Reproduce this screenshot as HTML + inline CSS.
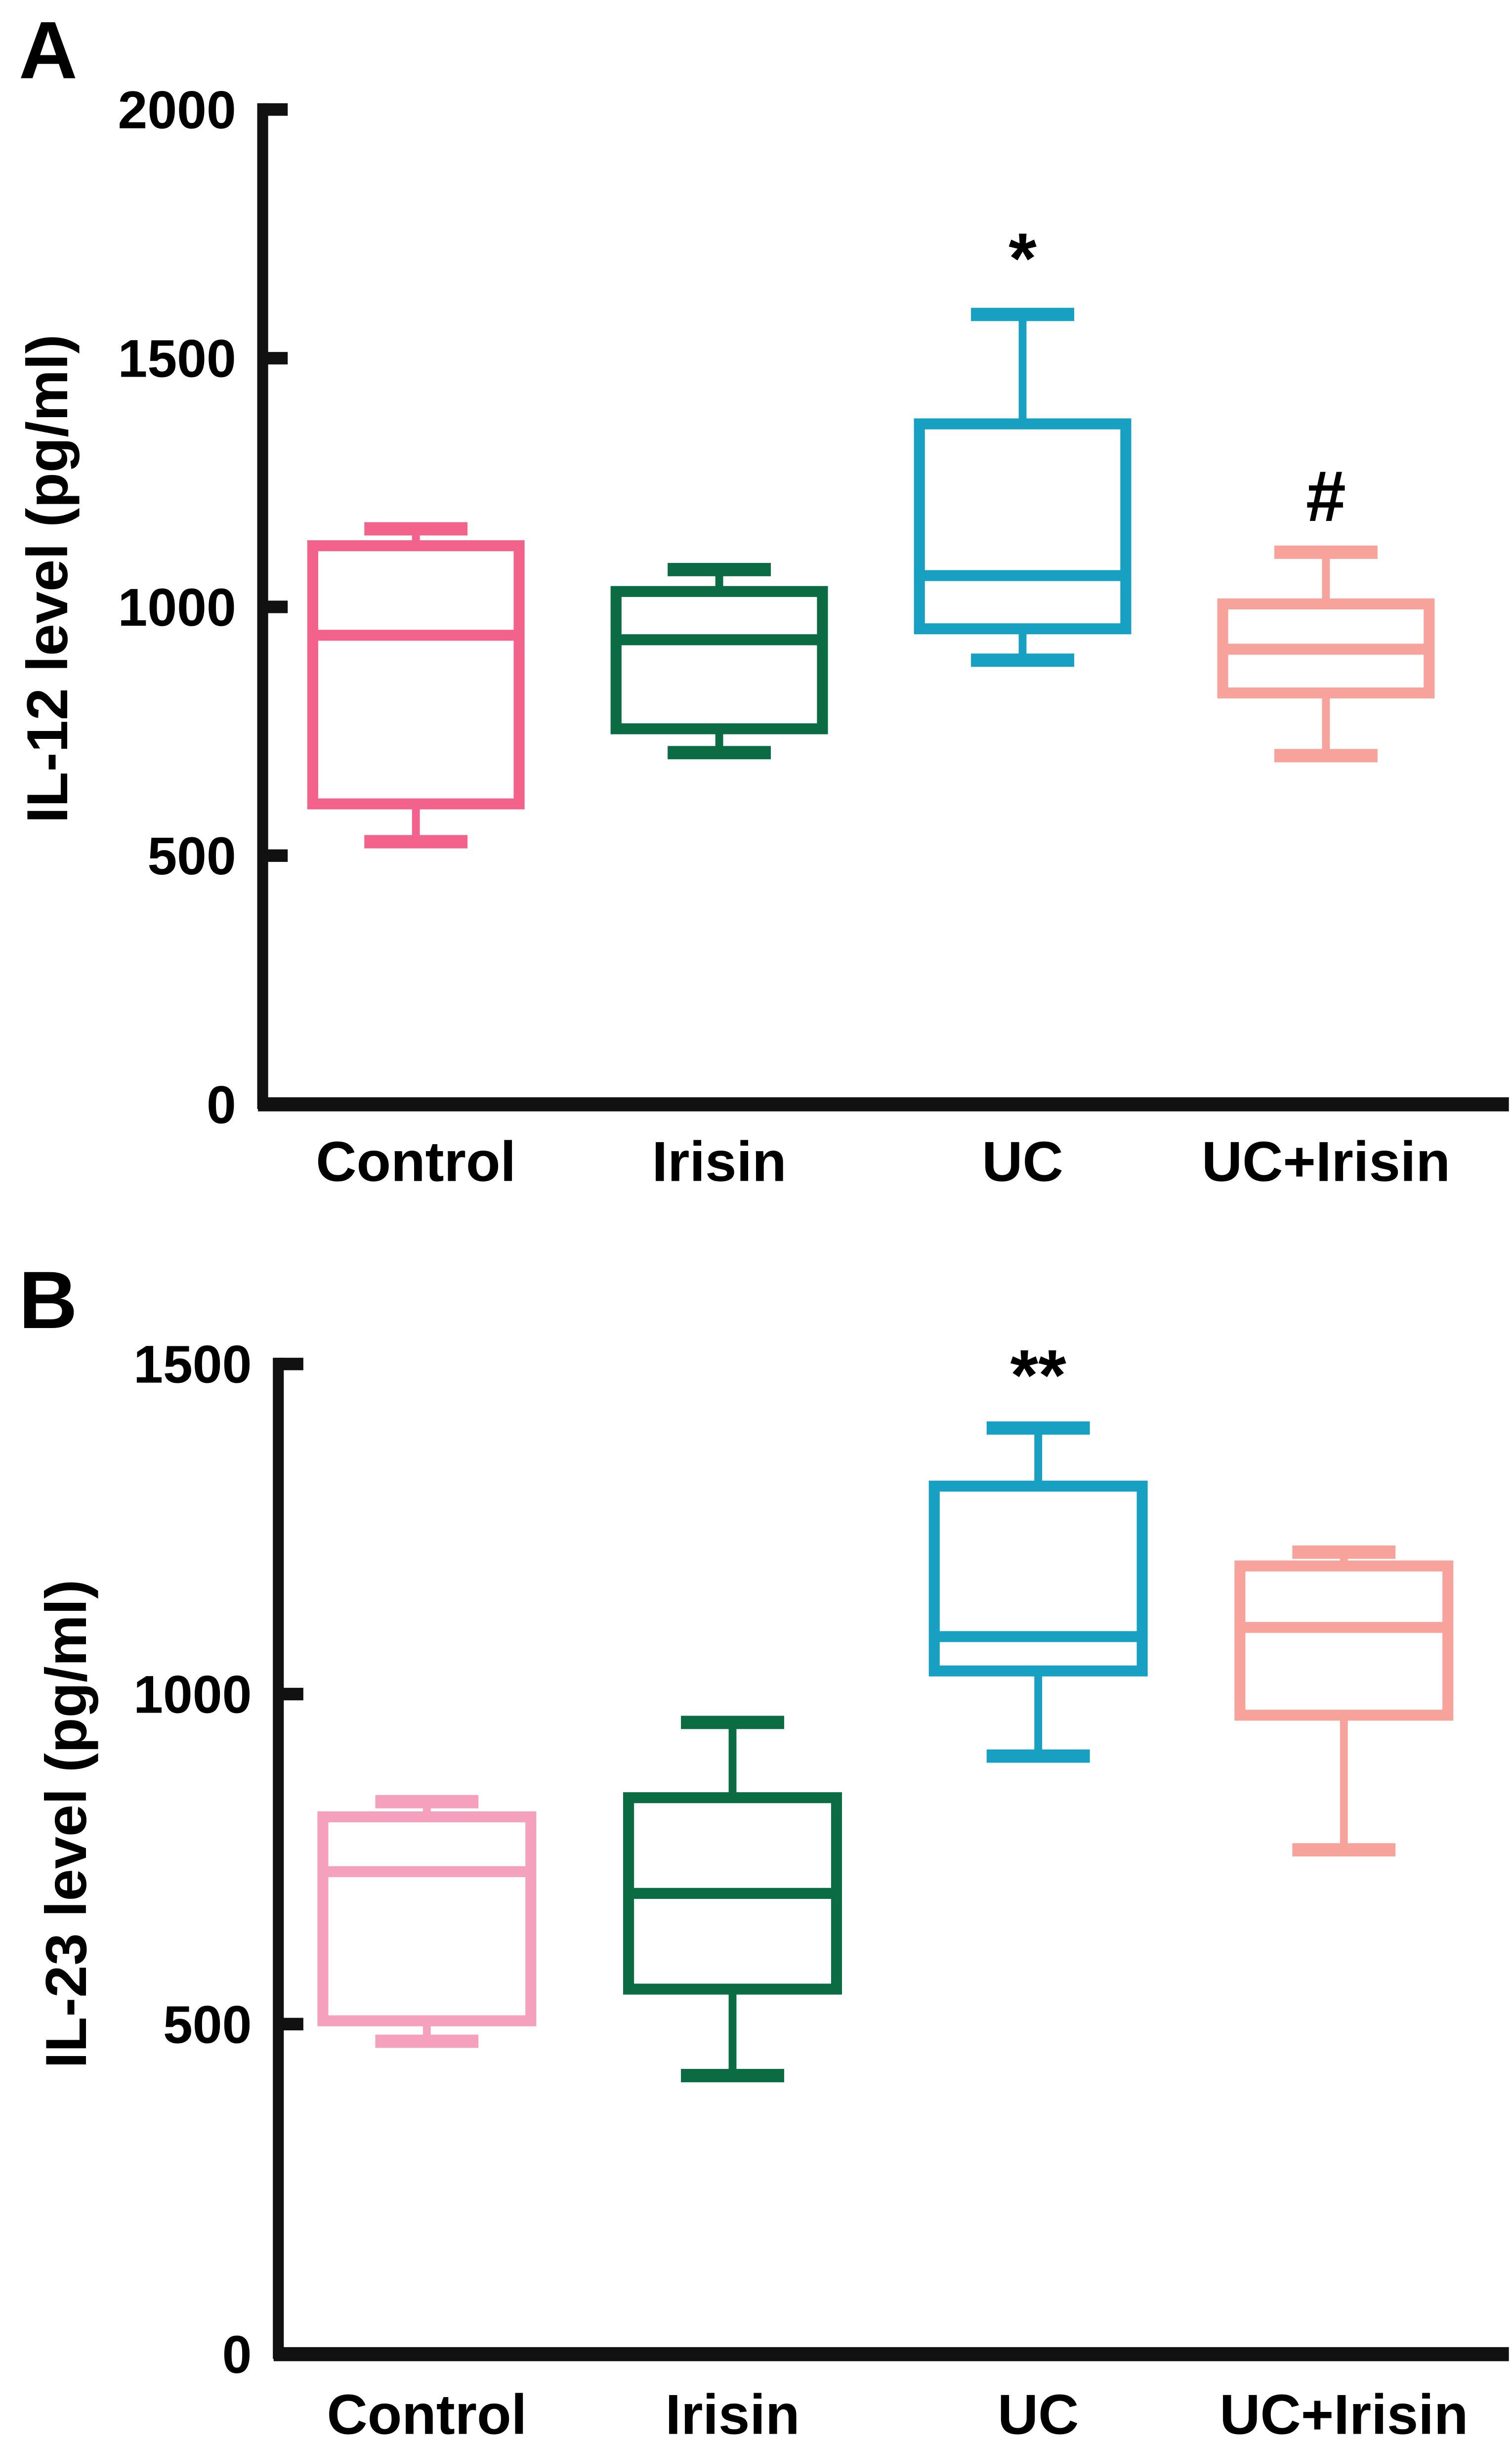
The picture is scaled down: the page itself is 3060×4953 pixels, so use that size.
<!DOCTYPE html>
<html><head><meta charset="utf-8">
<style>
html,body{margin:0;padding:0;background:#fff;}
svg{display:block;}
text{font-family:"Liberation Sans",Arial,sans-serif;font-weight:bold;fill:#000;}
</style></head>
<body>
<svg id="fig" width="3060" height="4953" viewBox="0 0 967 1565" preserveAspectRatio="none" xmlns="http://www.w3.org/2000/svg">
<rect x="0" y="0" width="967" height="1565" fill="#fff"/>
<text x="12" y="50" font-size="52">A</text>
<text x="12" y="849" font-size="52">B</text>
<text transform="translate(43,370) rotate(-90)" text-anchor="middle" font-size="37">IL-12 level (pg/ml)</text>
<text transform="translate(55,1166) rotate(-90)" text-anchor="middle" font-size="37">IL-23 level (pg/ml)</text>
<g id="chartA"></g>
<g id="chartB"></g>
</svg>
<script>
const categories = ["Control","Irisin","UC","UC+Irisin"];
// Panel A (IL-12): [min, q1, median, q3, max]
const a_min = [528, 707, 893, 701];
const a_q1  = [604, 755, 956, 827];
const a_med = [943, 934, 1063, 915];
const a_q3  = [1123, 1031, 1368, 1006];
const a_max = [1157, 1075, 1588, 1110];
const a_ticks = [0, 500, 1000, 1500, 2000];
const a_marks = ["", "", "*", "#"];
// Panel B (IL-23)
const b_min = [474, 422, 906, 764];
const b_q1  = [505, 553, 1035, 968];
const b_med = [731, 698, 1087, 1101];
const b_q3  = [814, 843, 1315, 1194];
const b_max = [837, 957, 1403, 1215];
const b_ticks = [0, 500, 1000, 1500];
const b_marks = ["", "", "**", ""];

const NS = "http://www.w3.org/2000/svg";
function mk(parent, tag, attrs){
  const el = document.createElementNS(NS, tag);
  for (const k in attrs) el.setAttribute(k, attrs[k]);
  parent.appendChild(el);
  return el;
}
function drawPanel(g, cfg, mins, q1s, meds, q3s, maxs, ticks, marks, colors, panel){
  const y = v => cfg.y0 - (v - 0) / (cfg.ymax) * (cfg.y0 - cfg.yTop);
  const x = i => cfg.xc[0] + i * cfg.step;
  const ya = mk(g, "line", {x1:cfg.ax, y1:y(cfg.ymax)-4, x2:cfg.ax, y2:cfg.y0+3, stroke:"#111", "stroke-width":7});
  
  
  const xa = mk(g, "line", {x1:cfg.ax-3, y1:cfg.y0, x2:cfg.xEnd, y2:cfg.y0, stroke:"#111", "stroke-width":9});
  
  
  ticks.forEach(t => {
    const tk = mk(g, "line", {x1:cfg.ax, y1:y(t), x2:cfg.ax+16, y2:y(t), stroke:"#111", "stroke-width":8});
    
    
    const tl = mk(g, "text", {x:cfg.ax-17, y:y(t)+12, "text-anchor":"end", "font-size":34});
    tl.textContent = String(t);
    
    
  });
  categories.forEach((c, i) => {
    const cx = x(i), col = colors[i];
    const bw = cfg.bw, cw = cfg.cw;
    const grp = mk(g, "g", {});
    
    
    mk(grp, "line", {x1:cx, y1:y(maxs[i]), x2:cx, y2:y(q3s[i]), stroke:col, "stroke-width":5});
    mk(grp, "line", {x1:cx, y1:y(mins[i]), x2:cx, y2:y(q1s[i]), stroke:col, "stroke-width":5});
    mk(grp, "line", {x1:cx-cw/2, y1:y(maxs[i]), x2:cx+cw/2, y2:y(maxs[i]), stroke:col, "stroke-width":8.5});
    mk(grp, "line", {x1:cx-cw/2, y1:y(mins[i]), x2:cx+cw/2, y2:y(mins[i]), stroke:col, "stroke-width":8.5});
    mk(grp, "rect", {x:cx-bw/2, y:y(q3s[i]), width:bw, height:y(q1s[i])-y(q3s[i]), fill:"none", stroke:col, "stroke-width":7});
    mk(grp, "line", {x1:cx-bw/2, y1:y(meds[i]), x2:cx+bw/2, y2:y(meds[i]), stroke:col, "stroke-width":7});
    const lab = mk(g, "text", {x:cx, y:cfg.labY, "text-anchor":"middle", "font-size":36});
    lab.textContent = c;
    
    
    if (marks[i]) {
      const m = mk(g, "text", {x:cx, y:y(maxs[i]) - cfg.markOff, "text-anchor":"middle", "font-size":46});
      m.textContent = marks[i];
      
      
    }
  });
}
drawPanel(document.getElementById("chartA"),
  {ax:168, y0:706, yTop:70, ymax:2000, xc:[266], step:194, xEnd:965, bw:132, cw:66, labY:755, markOff:20},
  a_min, a_q1, a_med, a_q3, a_max, a_ticks, a_marks,
  ["#f2628a","#0b6b43","#17a0c2","#f7a39b"], "a");
drawPanel(document.getElementById("chartB"),
  {ax:178, y0:1505, yTop:872, ymax:1500, xc:[273], step:195.5, xEnd:965, bw:133, cw:66, labY:1556, markOff:18},
  b_min, b_q1, b_med, b_q3, b_max, b_ticks, b_marks,
  ["#f5a1bd","#0b6b43","#17a0c2","#f7a39b"], "b");
</script>
</body></html>
